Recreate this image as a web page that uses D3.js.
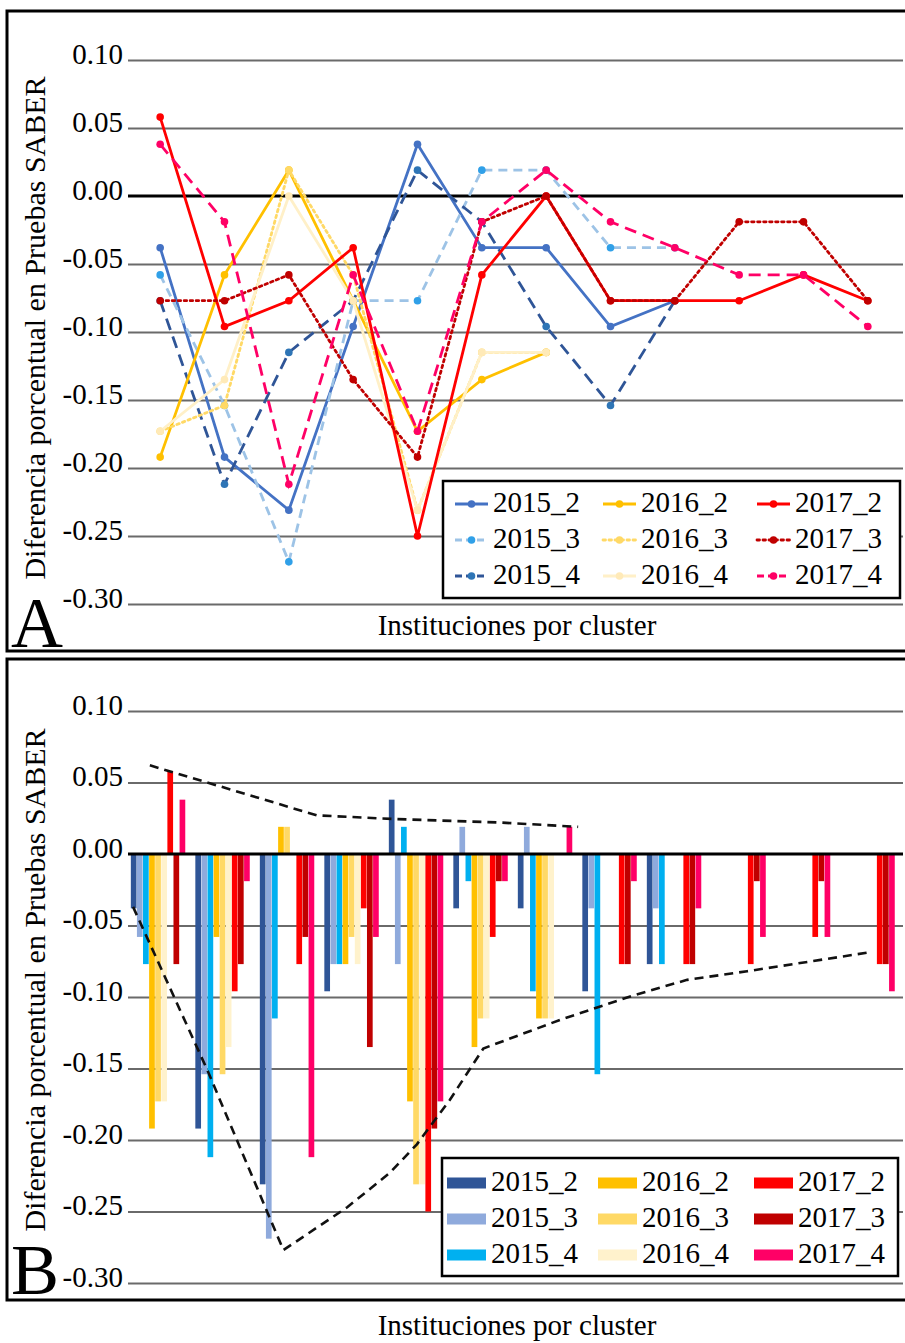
<!DOCTYPE html>
<html>
<head>
<meta charset="utf-8">
<script src="https://cdn.jsdelivr.net/npm/d3@7"></script>
<style>
  body { margin: 0; background: #fff; }
  svg { display: block; font-family: 'Liberation Serif', 'Times New Roman', serif; }
</style>
</head>
<body>
<div id="chart"></div>
<script>
// cluster numbers on the x axis
const clusters = d3.range(1, 13)
const seriesNames = ['2015_2', '2015_3', '2015_4', '2016_2', '2016_3', '2016_4', '2017_2', '2017_3', '2017_4']

// difference per cluster (null = no institutions in that cluster)
const v2015_2 = [-0.038, -0.192, -0.231, -0.096, 0.038, -0.038, -0.038, -0.096, -0.077, null, null, null]
const v2015_3 = [-0.058, -0.154, -0.269, -0.077, -0.077, 0.019, 0.019, -0.038, -0.038, null, null, null]
const v2015_4 = [-0.077, -0.212, -0.115, -0.077, 0.019, -0.019, -0.096, -0.154, -0.077, null, null, null]
const v2016_2 = [-0.192, -0.058, 0.019, -0.077, -0.173, -0.135, -0.115, null, null, null, null, null]
const v2016_3 = [-0.173, -0.154, 0.019, -0.058, -0.231, -0.115, -0.115, null, null, null, null, null]
const v2016_4 = [-0.173, -0.135, 0.000, -0.077, -0.231, -0.115, -0.115, null, null, null, null, null]
const v2017_2 = [0.058, -0.096, -0.077, -0.038, -0.250, -0.058, 0.000, -0.077, -0.077, -0.077, -0.058, -0.077]
const v2017_3 = [-0.077, -0.077, -0.058, -0.135, -0.192, -0.019, 0.000, -0.077, -0.077, -0.019, -0.019, -0.077]
const v2017_4 = [0.038, -0.019, -0.212, -0.058, -0.173, -0.019, 0.019, -0.019, -0.038, -0.058, -0.058, -0.096]

const yTicks = [0.10, 0.05, 0.00, -0.05, -0.10, -0.15, -0.20, -0.25, -0.30]

// hand drawn envelopes in panel B, [cluster position, value]
const upperEnvelope = [[0.87, 0.062], [3.46, 0.027], [4.64, 0.0245], [6.30, 0.022], [7.51, 0.019]]
const lowerEnvelope = [[0.61, -0.037], [1.76, -0.151], [2.94, -0.277], [3.93, -0.247], [4.59, -0.223],
    [5.01, -0.203], [5.52, -0.172], [6.04, -0.136], [7.23, -0.116], [8.36, -0.099], [9.20, -0.088],
    [10.13, -0.082], [11.99, -0.069]]

const values = [v2015_2, v2015_3, v2015_4, v2016_2, v2016_3, v2016_4, v2017_2, v2017_3, v2017_4]
const series = seriesNames.map((name, i) => ({ name: name, values: values[i] }))

// styles
const lineColor = { '2015_2': '#4472C4', '2015_3': '#9DC3E6', '2015_4': '#2F5597', '2016_2': '#FFC000', '2016_3': '#FFD966',
    '2016_4': '#FFF0C8', '2017_2': '#FF0000', '2017_3': '#C00000', '2017_4': '#FF0066' }
const markColor = { '2015_2': '#4472C4', '2015_3': '#30A0E8', '2015_4': '#2E75B6', '2016_2': '#FFC000', '2016_3': '#FFD966',
    '2016_4': '#FFEAB8', '2017_2': '#FF0000', '2017_3': '#C00000', '2017_4': '#FF0066' }
const dashes = { '2015_2': null, '2015_3': '9,6', '2015_4': '12,7', '2016_2': null, '2016_3': '2.5,3.5',
    '2016_4': null, '2017_2': null, '2017_3': '2.5,3.5', '2017_4': '12,7' }
const barColor = { '2015_2': '#2F5597', '2015_3': '#8FAADC', '2015_4': '#00B0F0', '2016_2': '#FFC000', '2016_3': '#FFD966',
    '2016_4': '#FFF2CC', '2017_2': '#FF0000', '2017_3': '#C00000', '2017_4': '#FF0066' }

const W = 905, H = 1343
const fmt = d => d.toFixed(2)
const isDotted = name => dashes[name] && dashes[name].startsWith('2.5')

const svg = d3.select('#chart').append('svg')
    .attr('width', W)
    .attr('height', H)

const drawGrid = (g, y) => {
    const axis = g.append('g')
        .attr('transform', 'translate(128,0)')
        .call(d3.axisLeft(y).tickValues(yTicks).tickSize(-775).tickPadding(5).tickFormat(fmt))
    axis.select('.domain').remove()
    axis.selectAll('.tick line')
        .attr('stroke', '#6a6a6a')
        .attr('stroke-width', 1.8)
        .filter(d => d === 0).remove()
    axis.selectAll('.tick text')
        .attr('dy', 3)
        .attr('fill', '#000')
        .style('font-family', "'Liberation Serif', serif")
        .style('font-size', '29px')
}

const drawZero = (g, y) => {
    g.append('line')
        .attr('x1', 128).attr('x2', 903)
        .attr('y1', y(0)).attr('y2', y(0))
        .attr('stroke', '#000')
        .attr('stroke-width', 3)
}

const drawTitles = (g, cy, xTitleY, letter, letterY) => {
    g.append('text')
        .attr('transform', 'translate(45,' + cy + ') rotate(-90)')
        .attr('text-anchor', 'middle')
        .style('font-size', '30px')
        .text('Diferencia porcentual en Pruebas SABER')
    g.append('text')
        .attr('x', 517).attr('y', xTitleY)
        .attr('text-anchor', 'middle')
        .style('font-size', '29px')
        .text('Instituciones por cluster')
    g.append('text')
        .attr('x', 11).attr('y', letterY)
        .style('font-size', '72px')
        .text(letter)
}

// ---------- panel A : lines ----------
const gA = svg.append('g')
const yA = d3.scaleLinear().domain([-0.30, 0.10]).range([604, 60])
const xA = d3.scalePoint().domain(clusters).range([128, 900]).padding(0.5)

gA.append('rect')
    .attr('x', 7).attr('y', 11).attr('width', 905).attr('height', 640)
    .attr('fill', 'none').attr('stroke', '#000').attr('stroke-width', 3)

drawGrid(gA, yA)
drawZero(gA, yA)

const lineA = d3.line()
    .defined(d => d != null)
    .x((d, i) => xA(clusters[i]))
    .y(d => yA(d))

series.forEach(s => {
    gA.append('path')
        .datum(s.values)
        .attr('d', lineA)
        .attr('fill', 'none')
        .attr('stroke', lineColor[s.name])
        .attr('stroke-width', 2.8)
        .attr('stroke-linecap', isDotted(s.name) ? 'round' : 'butt')
        .attr('stroke-dasharray', dashes[s.name])
    gA.append('g').selectAll('circle')
        .data(s.values.map((v, i) => ({ c: clusters[i], v: v })).filter(d => d.v != null))
        .enter().append('circle')
        .attr('cx', d => xA(d.c))
        .attr('cy', d => yA(d.v))
        .attr('r', 3.8)
        .attr('fill', markColor[s.name])
})

drawTitles(gA, 328, 635, 'A', 647)

// legend A
const legA = gA.append('g')
legA.append('rect')
    .attr('x', 443).attr('y', 481).attr('width', 457).attr('height', 117)
    .attr('fill', '#fff').attr('stroke', '#000').attr('stroke-width', 2.5)
const legColX = [455, 603, 757]
const legRowY = [504, 540, 576]
series.forEach((s, i) => {
    const col = Math.floor(i / 3), row = i % 3
    const lx = legColX[col], ly = legRowY[row]
    legA.append('line')
        .attr('x1', lx).attr('x2', lx + 33)
        .attr('y1', ly).attr('y2', ly)
        .attr('stroke', lineColor[s.name])
        .attr('stroke-width', 2.8)
        .attr('stroke-linecap', isDotted(s.name) ? 'round' : 'butt')
        .attr('stroke-dasharray', dashes[s.name] ? (isDotted(s.name) ? '2.5,3.5' : '7,4') : null)
    legA.append('circle')
        .attr('cx', lx + 16.5).attr('cy', ly).attr('r', 3.8)
        .attr('fill', markColor[s.name])
    legA.append('text')
        .attr('x', lx + 38).attr('y', ly + 8)
        .style('font-size', '29px')
        .text(s.name)
})

// ---------- panel B : bars ----------
const gB = svg.append('g')
const yB = d3.scaleLinear().domain([-0.30, 0.10]).range([1283, 711])
const xB = d3.scaleBand().domain(clusters).range([126, 900]).paddingInner(0.15).paddingOuter(0.075)
const xInner = d3.scaleBand().domain(seriesNames).range([0, xB.bandwidth()])
const xEnv = d3.scaleLinear().domain([1, 12])
    .range([xB(1) + xB.bandwidth() / 2, xB(12) + xB.bandwidth() / 2])

gB.append('rect')
    .attr('x', 7).attr('y', 659).attr('width', 905).attr('height', 641)
    .attr('fill', 'none').attr('stroke', '#000').attr('stroke-width', 3)

drawGrid(gB, yB)

series.forEach(s => {
    gB.append('g').selectAll('rect')
        .data(s.values.map((v, i) => ({ c: clusters[i], v: v })).filter(d => d.v != null && d.v !== 0))
        .enter().append('rect')
        .attr('x', d => xB(d.c) + xInner(s.name))
        .attr('y', d => yB(Math.max(0, d.v)))
        .attr('width', xInner.bandwidth() - 0.4)
        .attr('height', d => Math.abs(yB(d.v) - yB(0)))
        .attr('fill', barColor[s.name])
})

drawZero(gB, yB)

const envLine = d3.line().x(d => xEnv(d[0])).y(d => yB(d[1]))
;[upperEnvelope, lowerEnvelope].forEach(env => {
    gB.append('path')
        .datum(env)
        .attr('d', envLine)
        .attr('fill', 'none')
        .attr('stroke', '#111')
        .attr('stroke-width', 2.6)
        .attr('stroke-dasharray', '9,6')
})

drawTitles(gB, 980, 1335, 'B', 1294)

// legend B
const legB = gB.append('g')
legB.append('rect')
    .attr('x', 442).attr('y', 1158).attr('width', 456).attr('height', 118)
    .attr('fill', '#fff').attr('stroke', '#000').attr('stroke-width', 2.5)
const legBColX = [447, 598, 754]
const legBRowY = [1183, 1219, 1255]
series.forEach((s, i) => {
    const col = Math.floor(i / 3), row = i % 3
    const lx = legBColX[col], ly = legBRowY[row]
    legB.append('rect')
        .attr('x', lx).attr('y', ly - 5.5).attr('width', 39).attr('height', 11)
        .attr('fill', barColor[s.name])
    legB.append('text')
        .attr('x', lx + 44).attr('y', ly + 8)
        .style('font-size', '29px')
        .text(s.name)
})
</script>
</body>
</html>
